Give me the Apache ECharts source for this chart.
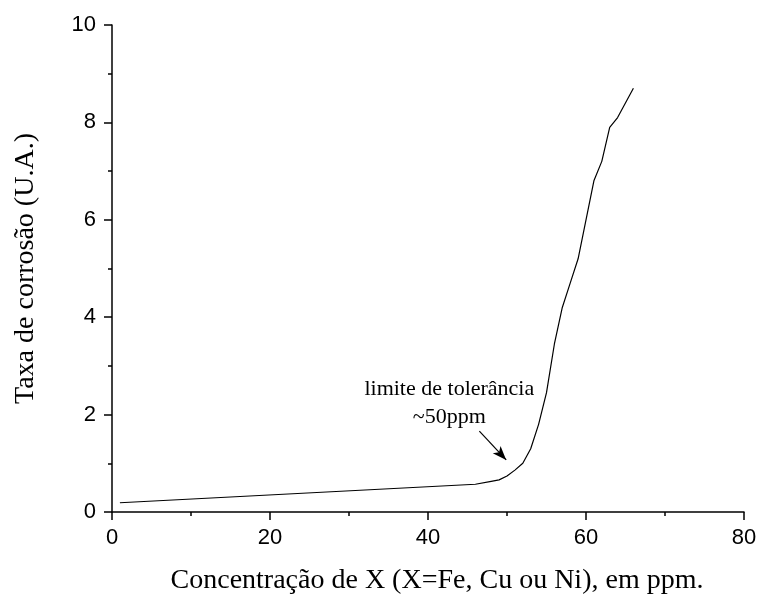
<!DOCTYPE html>
<html>
<head>
<meta charset="utf-8">
<script src="https://cdn.jsdelivr.net/npm/echarts@6/dist/echarts.min.js"></script>
<style>
  html, body { margin: 0; padding: 0; background: #fff; }
  #chart { width: 758px; height: 595px; }
</style>
</head>
<body>
<div id="chart"></div>
<script>
// concentração (ppm) e taxa de corrosão (U.A.)
const conc = [1, 46, 48, 49, 50, 51, 52, 53, 54, 55, 56, 57, 58, 59, 61, 62, 63, 64, 66];
const taxa = [0.19, 0.57, 0.63, 0.66, 0.74, 0.86, 1.0, 1.3, 1.8, 2.45, 3.45, 4.2, 4.7, 5.2, 6.8, 7.2, 7.9, 8.1, 8.7];

const xTicks = [0, 20, 40, 60, 80];
const yTicks = [0, 2, 4, 6, 8, 10];

// seta e texto da anotação
const noteLines = ['limite de tolerância', '~50ppm'];
const notePos = [[42.7, 2.52], [42.7, 1.95]];
const arrowFrom = [46.5, 1.66];
const arrowTo = [49.9, 1.07];

const SERIF = '"Liberation Serif", "Times New Roman", serif';
const SANS = '"Liberation Sans", Arial, sans-serif';

const axisCommon = {
  axisLine: { show: true, onZero: false, lineStyle: { color: '#000', width: 1.5 } },
  axisTick: { show: true, inside: false, length: 8, lineStyle: { color: '#000', width: 1.5 } },
  minorTick: { show: true, splitNumber: 2, length: 4, lineStyle: { color: '#000', width: 1.5 } },
  splitLine: { show: false },
  nameTextStyle: { fontFamily: SERIF, fontSize: 28, color: '#000' }
};

const chart = echarts.init(document.getElementById('chart'), null, { renderer: 'canvas' });

chart.setOption({
  animation: false,
  backgroundColor: '#fff',
  grid: { left: 112, right: 14, top: 25, bottom: 83, outerBoundsMode: 'none', containLabel: false },
  xAxis: {
    type: 'value',
    min: xTicks[0], max: xTicks[xTicks.length - 1], interval: 20,
    name: 'Concentração de X (X=Fe, Cu ou Ni), em ppm.',
    nameLocation: 'middle', nameGap: 55,
    ...axisCommon,
    nameTextStyle: { ...axisCommon.nameTextStyle, padding: [0, 0, 0, 18] },
    axisLabel: { margin: 15, fontFamily: SANS, fontSize: 22, color: '#000' }
  },
  yAxis: {
    type: 'value',
    min: yTicks[0], max: yTicks[yTicks.length - 1], interval: 2,
    name: 'Taxa de corrosão (U.A.)',
    nameLocation: 'middle', nameGap: 72,
    ...axisCommon,
    axisLabel: { margin: 16, fontFamily: SANS, fontSize: 22, color: '#000' }
  },
  series: [{
    type: 'line',
    data: conc.map((c, i) => [c, taxa[i]]),
    showSymbol: false,
    symbol: 'none',
    lineStyle: { color: '#000', width: 1.2 },
    markLine: {
      silent: true,
      symbol: ['none', 'arrow'],
      symbolSize: [8, 14],
      label: { show: false },
      lineStyle: { color: '#000', width: 1.2, type: 'solid' },
      data: [[{ coord: arrowFrom }, { coord: arrowTo }]]
    },
    markPoint: {
      silent: true,
      symbol: 'circle',
      symbolSize: 0,
      data: noteLines.map((t, i) => ({
        coord: notePos[i],
        label: {
          show: true, position: 'inside', formatter: t,
          fontFamily: SERIF, fontSize: 22, color: '#000'
        }
      }))
    }
  }]
});
</script>
</body>
</html>
